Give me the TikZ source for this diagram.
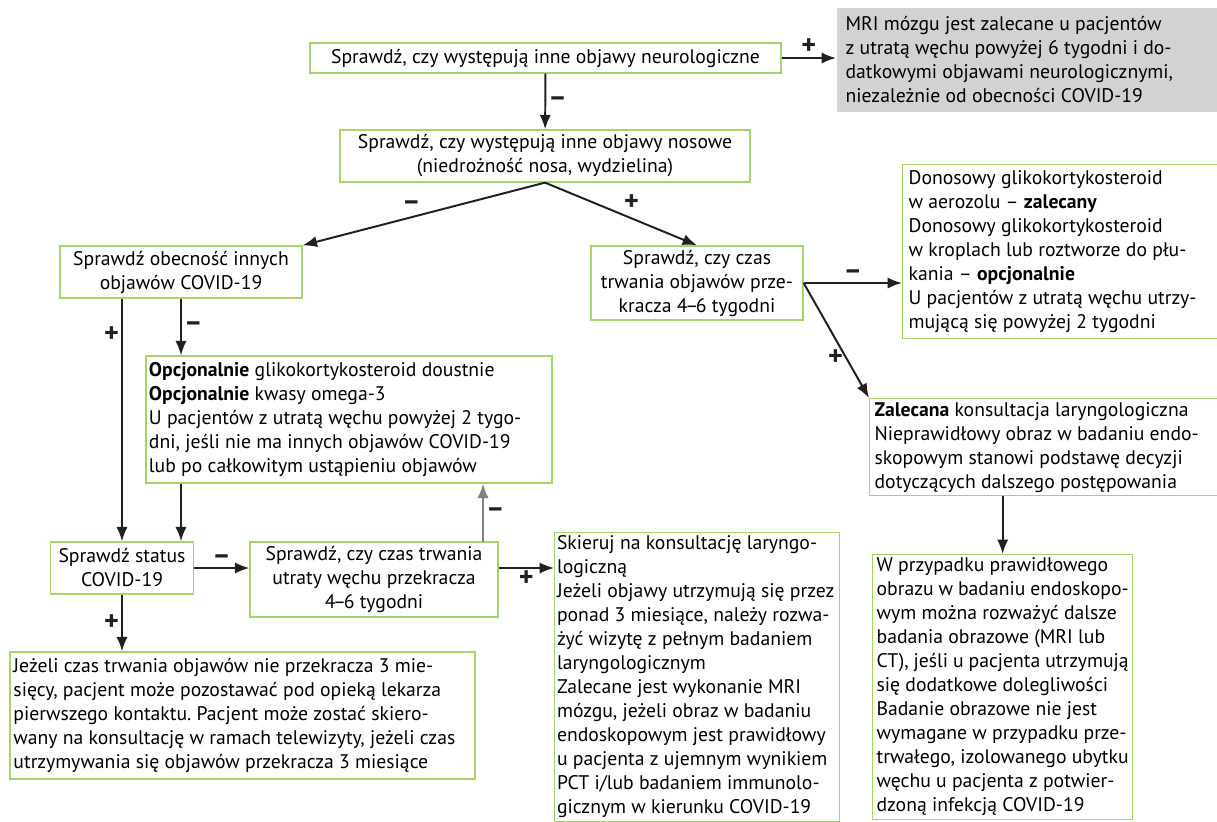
\documentclass[tikz,border=0pt]{standalone}
\usepackage{fontspec}
\setmainfont{PT Sans}
\usetikzlibrary{arrows.meta}
\definecolor{boxgreen}{RGB}{165,212,105}
\definecolor{boxgray}{RGB}{209,210,212}
\definecolor{arblack}{RGB}{35,31,32}
\newcommand{\tyg}{4\kern-0.12em–\kern-0.12em6}
\begin{document}
\begin{tikzpicture}[
  x=0.25mm, y=-0.25mm,
  box/.style={draw=boxgreen, line width=0.9pt, rectangle, inner xsep=0.75mm, inner ysep=0.8mm,
              font=\fontsize{14pt}{17.07pt}\selectfont\frenchspacing},
  cbox/.style={box, align=flush center},
  lbox/.style={box, align=flush left},
  ar/.style={-{Latex[length=3.6mm,width=2.8mm]}, line width=1.4pt, draw=arblack},
  gar/.style={ar, draw=black!50},
  lab/.style={font=\fontsize{20pt}{20pt}\selectfont\bfseries, inner sep=1.5pt, text=arblack},
]
\useasboundingbox (0,0) rectangle (1217,821);

\node[cbox, minimum width=117.75mm, minimum height=7.5mm] (neuro) at (545.5,58)
  {Sprawdź, czy występują inne objawy neurologiczne};
\node[lbox, draw=none, fill=boxgray, anchor=north west, inner xsep=2.25mm,
      text width=96.5mm, minimum height=26mm] (mri) at (836,7)
  {MRI mózgu jest zalecane u pacjentów\\z utratą węchu powyżej 6 tygodni i do-\\datkowymi objawami neurologicznymi,\\niezależnie od obecności COVID-19};
\node[cbox, minimum width=102.5mm, minimum height=13mm] (nos) at (545,156)
  {Sprawdź, czy występują inne objawy nosowe\\(niedrożność nosa, wydzielina)};
\node[cbox, minimum width=60.5mm, minimum height=13mm] (covobj) at (181,272)
  {Sprawdź obecność innych\\objawów COVID-19};
\node[cbox, minimum width=53mm, minimum height=18.5mm] (czas) at (697,283)
  {Sprawdź, czy czas\\trwania objawów prze-\\kracza \tyg{} tygodni};
\node[lbox, anchor=north west, inner xsep=1.5mm, text width=82mm, minimum height=43.5mm] (donos) at (902,164)
  {Donosowy glikokortykosteroid\\w aerozolu – \textbf{zalecany}\\Donosowy glikokortykosteroid\\w kroplach lub roztworze do płu-\\kania – \textbf{opcjonalnie}\\U pacjentów z utratą węchu utrzy-\\mującą się powyżej 2 tygodni};
\node[lbox, text width=100mm, minimum width=101.5mm, minimum height=31.75mm] (opc) at (349,419.5)
  {\textbf{Opcjonalnie} glikokortykosteroid doustnie\\\textbf{Opcjonalnie} kwasy omega-3\\U pacjentów z utratą węchu powyżej 2 tygo-\\dni, jeśli nie ma innych objawów COVID-19\\lub po całkowitym ustąpieniu objawów};
\node[lbox, anchor=north west, inner xsep=1.25mm, text width=90mm, minimum height=24.25mm] (laryng) at (869,398)
  {\textbf{Zalecana} konsultacja laryngologiczna\\Nieprawidłowy obraz w badaniu endo-\\skopowym stanowi podstawę decyzji\\dotyczących dalszego postępowania};
\node[cbox, minimum width=35.75mm, minimum height=13mm] (status) at (122,568)
  {Sprawdź status\\COVID-19};
\node[cbox, minimum width=62mm, minimum height=18.75mm] (utrata) at (374,579.5)
  {Sprawdź, czy czas trwania\\utraty węchu przekracza\\\tyg{} tygodni};
\node[lbox, anchor=north west, inner xsep=0.6mm, text width=70mm] (skieruj) at (554,532)
  {Skieruj na konsultację laryngo-\\logiczną\\Jeżeli objawy utrzymują się przez\\ponad 3 miesiące, należy rozwa-\\żyć wizytę z pełnym badaniem\\laryngologicznym\\Zalecane jest wykonanie MRI\\mózgu, jeżeli obraz w badaniu\\endoskopowym jest prawidłowy\\u pacjenta z ujemnym wynikiem\\PCT i/lub badaniem immunolo-\\gicznym w kierunku COVID-19\\ };
\node[lbox, anchor=north west, inner xsep=1mm, text width=63mm] (obraz) at (872,554)
  {W przypadku prawidłowego\\obrazu w badaniu endoskopo-\\wym można rozważyć dalsze\\badania obrazowe (MRI lub\\CT), jeśli u pacjenta utrzymują\\się dodatkowe dolegliwości\\Badanie obrazowe nie jest\\wymagane w przypadku prze-\\trwałego, izolowanego ubytku\\węchu u pacjenta z potwier-\\dzoną infekcją COVID-19\\ };
\node[lbox, text width=114.5mm, minimum width=116.25mm, minimum height=31.75mm] (poz) at (242.5,715.5)
  {Jeżeli czas trwania objawów nie przekracza 3 mie-\\sięcy, pacjent może pozostawać pod opieką lekarza\\pierwszego kontaktu. Pacjent może zostać skiero-\\wany na konsultację w ramach telewizyty, jeżeli czas\\utrzymywania się objawów przekracza 3 miesiące};

\draw[ar] (neuro.east) -- node[lab, above] {+} (neuro.east -| mri.west);
\draw[ar] (neuro) -- node[lab, right] {–} (nos);
\draw[ar] (nos.south) -- node[lab, above left] {–} (covobj.north east);
\draw[ar] (nos.south) -- node[lab, above right] {+} (czas.north);
\draw[ar] (czas.east) -- node[lab, above] {–} (czas.east -| donos.west);
\draw[ar] (czas.east) -- node[lab, left, pos=0.65] {+} (laryng.north west);
\draw[ar] (covobj.south) -- node[lab, right] {–} (covobj.south |- opc.north);
\draw[ar] (status.north |- covobj.south) -- node[lab, left, pos=0.15] {+} (status.north);
\draw[ar] (covobj.south |- opc.south) -- (covobj.south |- status.north);
\draw[ar] (status.east) -- node[lab, above] {–} (status.east -| utrata.west);
\draw[ar] (status.east -| utrata.east) -- node[lab, below] {+} (status.east -| skieruj.west);
\coordinate (back) at (483,542);
\draw[gar] (back) -- node[lab, right] {–} (back |- opc.south);
\draw[ar] (obraz.north |- laryng.south) -- (obraz.north);
\draw[ar] (status.south) -- node[lab, left] {+} (status.south |- poz.north);
\end{tikzpicture}
\end{document}
